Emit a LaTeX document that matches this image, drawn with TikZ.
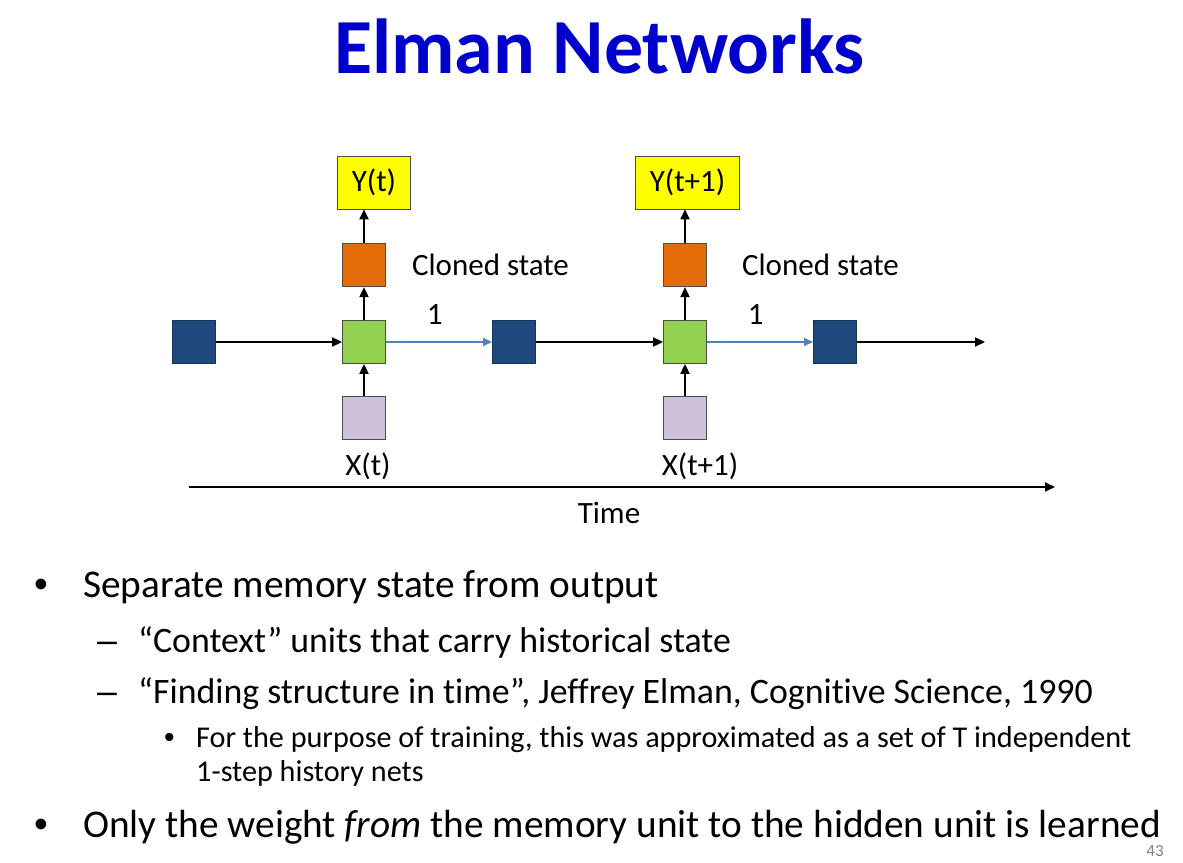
\documentclass[tikz,border=0pt]{standalone}
\usepackage{fontspec}
\setmainfont{Carlito}[Ligatures=NoCommon]
\newfontfamily\marksfont{Liberation Sans}
\usepackage{tikz}
\usetikzlibrary{arrows.meta,positioning}
\definecolor{titleblue}{RGB}{0,0,204}
\definecolor{navy}{RGB}{31,73,125}
\definecolor{hidgreen}{RGB}{146,208,80}
\definecolor{clonorange}{RGB}{228,108,10}
\definecolor{inlavender}{RGB}{204,192,218}
\definecolor{outyellow}{RGB}{255,255,0}
\definecolor{linkblue}{RGB}{79,129,189}
\definecolor{pagegray}{RGB}{128,128,128}

\begin{document}
\begin{tikzpicture}[
    x=1pt, y=-1pt,
    node distance=33pt,
    unit/.style={rectangle, draw=black!70, line width=0.8pt, minimum size=43pt, inner sep=0pt},
    context/.style={unit, fill=navy, draw=navy!70!black},
    hidden/.style={unit, fill=hidgreen},
    cloned/.style={unit, fill=clonorange},
    input/.style={unit, fill=inlavender},
    output/.style={rectangle, draw=black!70, line width=0.8pt, fill=outyellow, minimum height=53pt, inner xsep=14pt, inner ysep=0pt, font=\fontsize{31}{34}\selectfont},
    label/.style={inner sep=0pt, text=black, font=\fontsize{31}{34}\selectfont},
    arrow/.style={-{Triangle[length=10pt,width=9pt]}, line width=1.8pt},
    copyarrow/.style={-{Triangle[length=9pt,width=8pt]}, line width=1.3pt, draw=linkblue},
    bullet/.style={anchor=base west, inner sep=0pt},
    level1/.style={bullet, font=\fontsize{39.3}{44}\selectfont},
    level2/.style={bullet, font=\fontsize{35.8}{40}\selectfont},
    level3/.style={bullet, font=\fontsize{30.2}{34}\selectfont}
]
    \useasboundingbox (0,0) rectangle (1183,862);

    \node[anchor=base, font=\fontsize{78}{80}\selectfont\bfseries, text=titleblue] (title) at (599.5,73) {Elman Networks};

    \node[context] (m1) at (194,342) {};
    \node[hidden] (h1) at (364,342) {};
    \node[cloned, above=of h1] (c1) {};
    \node[output, above=34pt of c1, xshift=10pt] (y1) {Y(t)};
    \node[input, below=32pt of h1] (x1) {};
    \node[label, below=13pt of x1, xshift=4pt] (xl1) {X(t)};
    \node[label, right=26pt of c1] (cs1) {Cloned state};

    \node[context] (m2) at (514,342) {};
    \node[hidden] (h2) at (685,342) {};
    \node[cloned, above=of h2] (c2) {};
    \node[output, above=34pt of c2, xshift=2.5pt] (y2) {Y(t+1)};
    \node[input, below=32pt of h2] (x2) {};
    \node[label, below=13pt of x2, xshift=15pt] (xl2) {X(t+1)};
    \node[label, right=35pt of c2] (cs2) {Cloned state};

    \node[context] (m3) at (835,342) {};
    \coordinate (out) at (985,342);

    \coordinate (t0) at (189,487);
    \coordinate (t1) at (1055,487);
    \node[label] (time) at (609,513) {Time};

    \draw[arrow] (m1) -- (h1);
    \draw[arrow] (h1) -- (c1);
    \draw[arrow] (c1.north) -- (y1.south -| c1);
    \draw[arrow] (x1) -- (h1);
    \draw[copyarrow] (h1) -- node[label, above=17pt, pos=0.46] {1} (m2);
    \draw[arrow] (m2) -- (h2);
    \draw[arrow] (h2) -- (c2);
    \draw[arrow] (c2.north) -- (y2.south -| c2);
    \draw[arrow] (x2) -- (h2);
    \draw[copyarrow] (h2) -- node[label, above=17pt, pos=0.46] {1} (m3);
    \draw[arrow] (m3) -- (out);
    \draw[arrow] (t0) -- (t1);

    \node[level1] (dot1) at (34,597) {\marksfont •};
    \node[level1] (line1) at (83,597) {Separate memory state from output};
    \node[level2] (dash1) at (97,652) {\marksfont –};
    \node[level2] (line2) at (138,652) {“Context” units that carry historical state};
    \node[level2] (dash2) at (97,703) {\marksfont –};
    \node[level2] (line3) at (138,703) {“Finding structure in time”, Jeffrey Elman, Cognitive Science, 1990};
    \node[level3] (dot2) at (164,747) {\marksfont •};
    \node[level3] (line4) at (196,747) {For the purpose of training, this was approximated as a set of T independent};
    \node[level3] (line5) at (196,781) {1-step history nets};
    \node[level1] (dot3) at (34,837) {\marksfont •};
    \node[level1] (line6) at (83,837) {Only the weight \emph{from} the memory unit to the hidden unit is learned};

    \node[font=\fontsize{17}{20}\selectfont, text=pagegray] (page) at (1155,851) {43};
\end{tikzpicture}
\end{document}
